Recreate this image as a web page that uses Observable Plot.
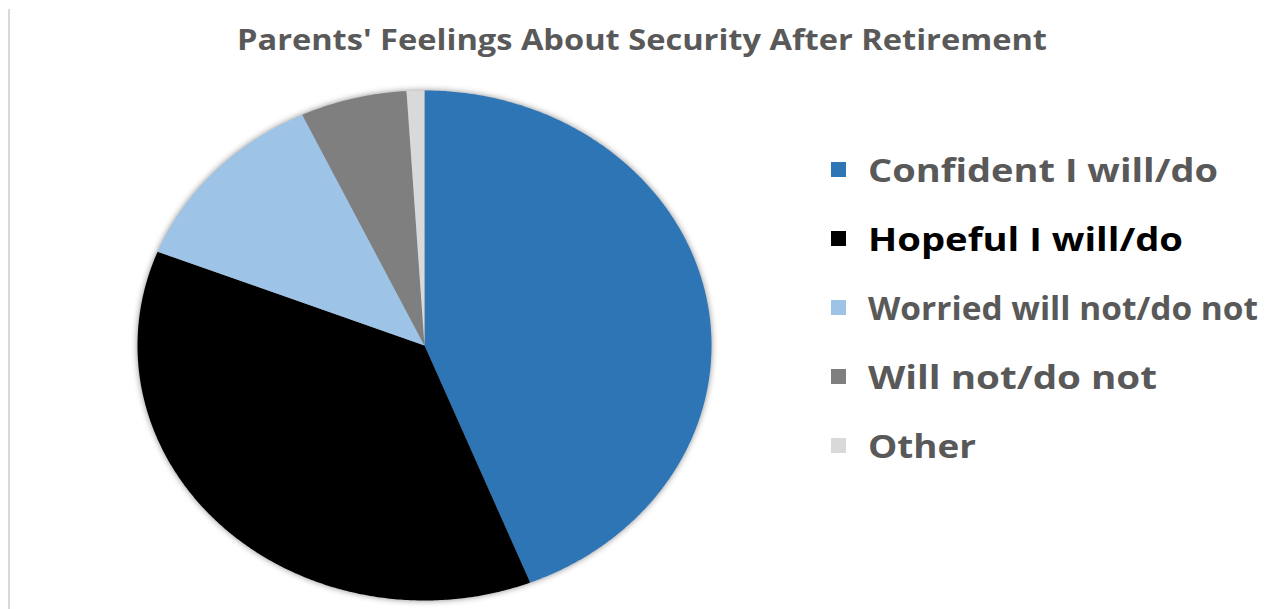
<!DOCTYPE html>
<html>
<head>
<meta charset="utf-8">
<script src="https://cdn.jsdelivr.net/npm/d3@7"></script>
<script src="https://cdn.jsdelivr.net/npm/@observablehq/plot@0.6"></script>
<style>
  html, body { margin: 0; padding: 0; background: #fff; }
  #wrap { position: relative; width: 1270px; height: 609px; overflow: hidden; background: #fff; }
  #chart { position: absolute; left: 0; top: 0; }
  #overlay { position: absolute; left: 0; top: 0; pointer-events: none; }
  #border { position: absolute; left: 8px; top: 9px; width: 2px; height: 600px; background: #d9d9d9; }
</style>
</head>
<body>
<div id="wrap">
  <div id="border"></div>
  <div id="chart"></div>
  <svg id="overlay" width="1270" height="609"></svg>
</div>
<script>
// ---- data ----
const title = "Parents' Feelings About Security After Retirement";
const categories = ["Confident I will/do", "Hopeful I will/do", "Worried will not/do not", "Will not/do not", "Other"];
const values = [44, 37, 12, 6, 1];
const colors = ["#2E75B6", "#000000", "#9DC3E6", "#7F7F7F", "#D9D9D9"];
const labelColors = ["#595959", "#000000", "#595959", "#595959", "#595959"];

// ---- pie geometry (unit circle, stretched by the x/y scales) ----
const arcs = d3.pie().sort(null).value(d => d.value)(
  categories.map((c, i) => ({category: c, value: values[i], color: colors[i]}))
);
function slicePoints(a) {
  const pts = [{x: 0, y: 0}];
  const n = Math.max(4, Math.ceil((a.endAngle - a.startAngle) / (Math.PI / 360)));
  for (let k = 0; k <= n; k++) {
    const t = a.startAngle + (a.endAngle - a.startAngle) * k / n;
    pts.push({x: Math.sin(t), y: Math.cos(t)});
  }
  return pts;
}

// center (424,345), rx 287, ry 255 in a 1270x609 frame
const W = 1270, H = 609, cx = 424, cy = 345, rx = 287, ry = 255;
const plot = Plot.plot({
  width: W, height: H,
  margin: 0,
  x: {domain: [-cx / rx, (W - cx) / rx], axis: null},
  y: {domain: [-(H - cy) / ry, cy / ry], axis: null},
  marks: arcs.map(a => Plot.line(slicePoints(a), {
    x: "x", y: "y", fill: a.data.color, stroke: "none", curve: "linear-closed"
  }))
});
plot.style.filter = "drop-shadow(0px 0px 3px rgba(0,0,0,0.45))";
document.getElementById("chart").appendChild(plot);

// ---- title and legend overlay ----
const svg = d3.select("#overlay");
const FONT = "'Open Sans', 'DejaVu Sans', sans-serif";
svg.append("text")
  .attr("x", 237).attr("y", 50)
  .attr("font-family", FONT).attr("font-weight", 700).attr("font-size", 28)
  .attr("fill", "#595959")
  .attr("textLength", 810).attr("lengthAdjust", "spacingAndGlyphs")
  .text(title);

const legendBaselines = [182, 251, 320, 389, 458];
const legendWidths = [350, 315, 390, 289, 108];
categories.forEach((c, i) => {
  svg.append("rect")
    .attr("x", 831).attr("y", legendBaselines[i] - 20)
    .attr("width", 15).attr("height", 15)
    .attr("fill", colors[i]);
  svg.append("text")
    .attr("x", 868).attr("y", legendBaselines[i])
    .attr("font-family", FONT).attr("font-weight", 700).attr("font-size", 32)
    .attr("fill", labelColors[i])
    .attr("textLength", legendWidths[i]).attr("lengthAdjust", "spacingAndGlyphs")
    .text(c);
});
</script>
</body>
</html>
